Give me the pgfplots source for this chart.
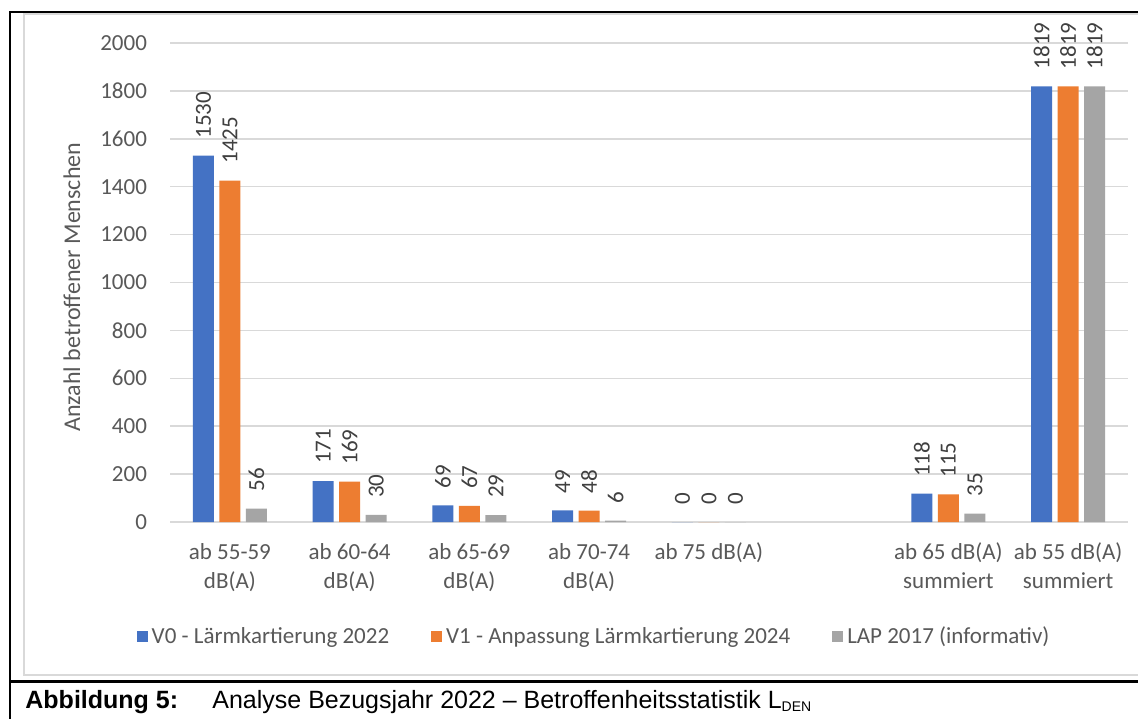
\documentclass[border=0pt]{standalone}
\usepackage{pgfplots}
\pgfplotsset{compat=1.18}
\usepackage{fontspec}
\setmainfont{Carlito}
\newfontfamily\capfont{Liberation Sans}
\definecolor{cblue}{HTML}{4472C4}
\definecolor{corange}{HTML}{ED7D31}
\definecolor{cgray}{HTML}{A5A5A5}
\definecolor{tickgray}{HTML}{595959}
\definecolor{labgray}{HTML}{404040}
\definecolor{gridgray}{HTML}{D9D9D9}
\begin{document}
\begin{tikzpicture}[x=1pt,y=1pt]
\useasboundingbox (0,0) rectangle (569,359);
\fill[white] (0,0) rectangle (569,359);
% inner chart border
\draw[gridgray, line width=0.8pt] (12,21.5) rectangle (575,352);
% outer frame
\draw[black, line width=1.2pt] (5,-2) -- (5,353) -- (575,353);
\draw[black, line width=1.5pt] (5,18.5) -- (575,18.5);
\begin{axis}[
  at={(85pt,98pt)}, anchor=south west,
  scale only axis, width=479pt, height=239.5pt,
  xmin=-0.5, xmax=7.5, ymin=0, ymax=2000,
  ytick={0,200,...,2000},
  xtick={0,1,2,3,4,6,7},
  xticklabels={ab 55-59\\dB(A), ab 60-64\\dB(A), ab 65-69\\dB(A), ab 70-74\\dB(A), ab 75 dB(A), ab 65 dB(A)\\summiert, ab 55 dB(A)\\summiert},
  xticklabel style={align=center, text=tickgray, font=\fontsize{11.5}{14.5}\selectfont, yshift=-7pt},
  yticklabel style={text=tickgray, font=\fontsize{11.5}{14}\selectfont, xshift=-8pt},
  /pgf/number format/assume math mode=true,
  /pgf/number format/1000 sep={},
  axis line style={draw=none},
  major tick length=0pt,
  tick style={draw=none},
  ymajorgrids, grid style={gridgray, line width=0.8pt},
  ylabel={Anzahl betroffener Menschen},
  ylabel style={at={(axis description cs:-0.1023,0.49)}, anchor=center, text=tickgray, font=\fontsize{12}{14}\selectfont},
  ybar=2.75pt, bar width=10.5pt,
  nodes near coords,
  every node near coord/.append style={font=\fontsize{11.5}{12}\selectfont, text=labgray, anchor=west, rotate=90, xshift=5pt},
  legend columns=3,
  legend style={draw=none, at={(0.4437,-0.240)}, anchor=center, font=\fontsize{11.5}{14}\selectfont, text=tickgray,
    /tikz/every even column/.append style={column sep=19pt}},
  legend image code/.code={\fill[#1] (0pt,-2.75pt) rectangle (5.5pt,2.75pt);},
]
\addplot[fill=cblue, draw=none] coordinates {(0,1530) (1,171) (2,69) (3,49) (4,0) (6,118) (7,1819)};
\addplot[fill=corange, draw=none] coordinates {(0,1425) (1,169) (2,67) (3,48) (4,0) (6,115) (7,1819)};
\addplot[fill=cgray, draw=none] coordinates {(0,56) (1,30) (2,29) (3,6) (4,0) (6,35) (7,1819)};
\legend{V0 - Lärmkartierung 2022, V1 - Anpassung Lärmkartierung 2024, LAP 2017 (informativ)}
\end{axis}
\node[anchor=base west, inner sep=0pt, font=\capfont\bfseries\fontsize{12.5}{14}\selectfont] at (12.5,5) {Abbildung 5:};
\node[anchor=base west, inner sep=0pt, font=\capfont\fontsize{12.5}{14}\selectfont] at (106,5) {Analyse Bezugsjahr 2022 – Betroffenheitsstatistik L\raisebox{-0.3ex}{\fontsize{7}{7}\selectfont DEN}};
\end{tikzpicture}
\end{document}
